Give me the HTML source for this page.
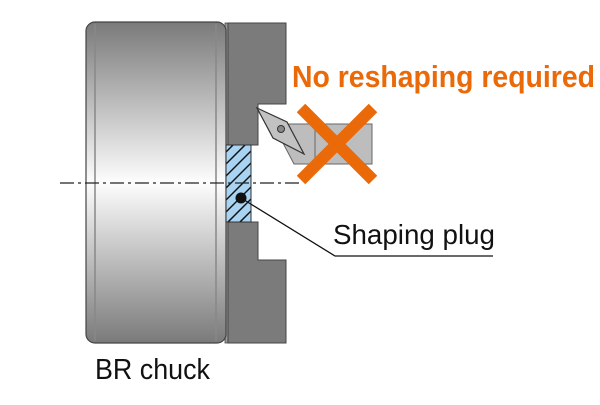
<!DOCTYPE html>
<html><head><meta charset="utf-8"><style>
body{margin:0;background:#fff;width:600px;height:400px;overflow:hidden}
</style></head><body>
<svg width="600" height="400" xmlns="http://www.w3.org/2000/svg">
<defs>
<linearGradient id="g" x1="0" y1="0" x2="0" y2="1">
<stop offset="0" stop-color="#7a7a7a"/><stop offset="0.5" stop-color="#fdfdfd"/><stop offset="1" stop-color="#7a7a7a"/>
</linearGradient>
<clipPath id="c"><rect x="226" y="145" width="25" height="77"/></clipPath>
</defs>
<rect x="225" y="23" width="4" height="320" fill="#999" stroke="#444" stroke-width="0.8"/>
<rect x="86" y="22" width="140" height="321" rx="9" fill="url(#g)" stroke="#444" stroke-width="1.2"/>
<line x1="95" y1="24" x2="95" y2="341" stroke="#888" stroke-width="1.5"/>
<line x1="216" y1="24" x2="216" y2="341" stroke="#888" stroke-width="1.5"/>
<polygon points="228,23 286,23 286,104 258,104 258,145 228,145" fill="#7b7b7b" stroke="#444" stroke-width="1"/>
<polygon points="228,222 258,222 258,260 286,260 286,343 228,343" fill="#7b7b7b" stroke="#444" stroke-width="1"/>
<rect x="226" y="145" width="25" height="77" fill="#a9d3f2"/>
<g clip-path="url(#c)" stroke="#111" stroke-width="1.5">
<line x1="216" y1="162" x2="266" y2="112"/>
<line x1="216" y1="174" x2="266" y2="124"/>
<line x1="216" y1="186" x2="266" y2="136"/>
<line x1="216" y1="198" x2="266" y2="148"/>
<line x1="216" y1="210" x2="266" y2="160"/>
<line x1="216" y1="222" x2="266" y2="172"/>
<line x1="216" y1="234" x2="266" y2="184"/>
<line x1="216" y1="246" x2="266" y2="196"/>
<line x1="216" y1="258" x2="266" y2="208"/>
</g>
<rect x="226" y="145" width="25" height="77" fill="none" stroke="#333" stroke-width="1"/>
<polygon points="287,124 372,124 372,164 294,164 283,143" fill="#bdbdbd" stroke="#666" stroke-width="1"/>
<line x1="315" y1="124" x2="315" y2="164" stroke="#666"/>
<polygon points="257,108 287,122 304,154 273,138" fill="#c2c2c2" stroke="#333" stroke-width="1.2"/>
<circle cx="281" cy="129" r="3.5" fill="#888" stroke="#333"/>
<line x1="60" y1="183" x2="302" y2="183" stroke="#222" stroke-width="1.2" stroke-dasharray="14,4,3,4"/>
<line x1="301" y1="108" x2="373" y2="180" stroke="#ea6a0a" stroke-width="12"/>
<line x1="373" y1="108" x2="301" y2="180" stroke="#ea6a0a" stroke-width="12"/>
<circle cx="241" cy="198" r="5.5" fill="#111"/>
<polyline points="241,198 335,256 493,256" fill="none" stroke="#111" stroke-width="1.3"/>
<text x="333" y="244" font-family="Liberation Sans, sans-serif" font-size="28" fill="#111" textLength="162" lengthAdjust="spacingAndGlyphs">Shaping plug</text>
<text x="292" y="87" font-family="Liberation Sans, sans-serif" font-weight="bold" font-size="31" fill="#ea6a0a" textLength="303" lengthAdjust="spacingAndGlyphs">No reshaping required</text>
<text x="95" y="379" font-family="Liberation Sans, sans-serif" font-size="29" fill="#111" textLength="115" lengthAdjust="spacingAndGlyphs">BR chuck</text>
</svg>
</body></html>
